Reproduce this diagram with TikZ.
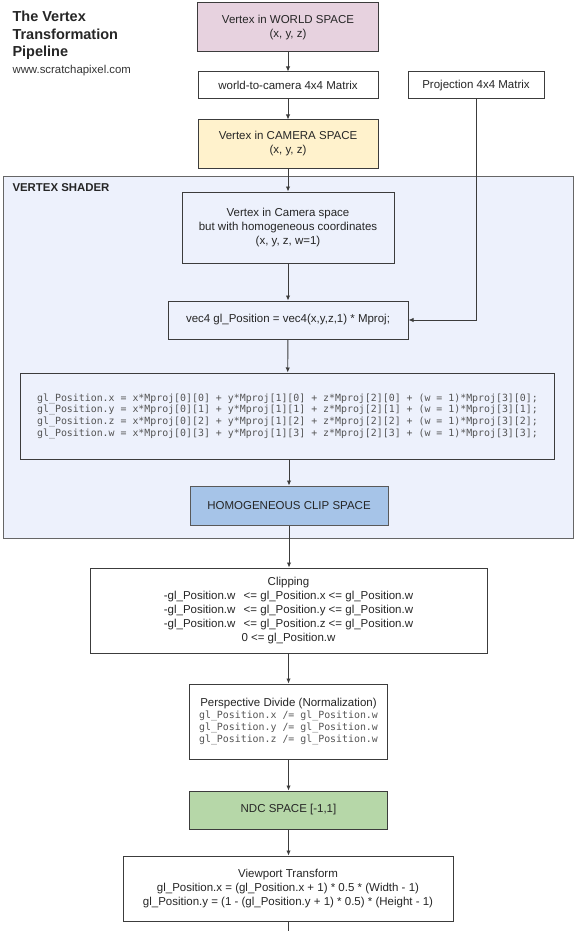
\documentclass[tikz,border=0pt]{standalone}
\usepackage{fontspec}
\setmainfont{Liberation Sans}
\setmonofont{DejaVu Sans Mono}
\usepackage{tikz}
\usetikzlibrary{arrows.meta,positioning}
\definecolor{vxpink}{RGB}{231,210,223}
\definecolor{vxyellow}{RGB}{255,242,204}
\definecolor{vxshader}{RGB}{237,241,252}
\definecolor{vxblue}{RGB}{166,196,232}
\definecolor{vxgreen}{RGB}{182,215,168}
\definecolor{vxline}{RGB}{60,60,60}
\definecolor{vxcode}{RGB}{85,85,85}

\begin{document}
\begin{tikzpicture}[x=1pt,y=-1pt,
  box/.style={draw=vxline,line width=1pt,fill=white,align=center,inner sep=0pt,
    text=black!85,font=\fontsize{11.5}{14}\selectfont},
  flow/.style={draw=vxline,line width=0.9pt,-{Latex[length=5pt,width=4.5pt]}}]
\useasboundingbox (0,0) rectangle (587,931);
% Title
\node[anchor=west,align=left,text=black!85,font=\fontsize{14.5}{17.5}\selectfont\bfseries] (title) at (9,35.5)
  {The Vertex\\Transformation\\Pipeline};
\node[anchor=west,text=black!80,font=\fontsize{11.4}{14}\selectfont] (url) at (9,71) {www.scratchapixel.com};
% Vertex shader frame
\node[box,fill=vxshader,draw=black!60,minimum width=570,minimum height=362] (shader) at (288,357) {};
\node[anchor=west,text=black!85,font=\fontsize{11.4}{14}\selectfont\bfseries] (shlabel) at (9,188) {VERTEX SHADER};
% Boxes
\node[box,fill=vxpink,minimum width=181,minimum height=49] (world) at (288,27.5) {Vertex in WORLD SPACE\\(x, y, z)};
\node[box,minimum width=180,minimum height=27] (wcam) at (288,85.5) {world-to-camera 4x4 Matrix};
\node[box,minimum width=136,minimum height=27] (proj) at (476,85.5) {Projection 4x4 Matrix};
\node[box,fill=vxyellow,minimum width=180,minimum height=48] (camera) at (288,144) {Vertex in CAMERA SPACE\\(x, y, z)};
\node[box,fill=vxshader,minimum width=212,minimum height=71] (homog) at (288,227.5)
  {Vertex in Camera space\\but with homogeneous coordinates\\(x, y, z, w=1)};
\node[box,fill=vxshader,minimum width=240,minimum height=38] (vecp) at (288,320) {vec4 gl\_Position = vec4(x,y,z,1) * Mproj;};
\node[box,fill=vxshader,minimum width=534,minimum height=86,text=vxcode,font=\fontsize{9.9}{11.6}\ttfamily] (code) at (287.5,416)
  {gl\_Position.x = x*Mproj[0][0] + y*Mproj[1][0] + z*Mproj[2][0] + (w = 1)*Mproj[3][0];\\
  gl\_Position.y = x*Mproj[0][1] + y*Mproj[1][1] + z*Mproj[2][1] + (w = 1)*Mproj[3][1];\\
  gl\_Position.z = x*Mproj[0][2] + y*Mproj[1][2] + z*Mproj[2][2] + (w = 1)*Mproj[3][2];\\
  gl\_Position.w = x*Mproj[0][3] + y*Mproj[1][3] + z*Mproj[2][3] + (w = 1)*Mproj[3][3];};
\node[box,fill=vxblue,draw=black!65,minimum width=198,minimum height=39] (hcs) at (289,505.5) {HOMOGENEOUS CLIP SPACE};
\node[box,minimum width=397,minimum height=85] (clipb) at (288.5,610.5)
  {Clipping\\-gl\_Position.w~~\,<= gl\_Position.x <= gl\_Position.w\\-gl\_Position.w~~\,<= gl\_Position.y <= gl\_Position.w\\-gl\_Position.w~~\,<= gl\_Position.z <= gl\_Position.w\\0 <= gl\_Position.w};
\node[box,minimum width=198,minimum height=75,font=\fontsize{9.9}{12}\ttfamily,text=vxcode] (persp) at (288.5,721.5)
  {{\fontsize{11.5}{12}\rmfamily\color{black!85}Perspective Divide (Normalization)}\\
  gl\_Position.x /= gl\_Position.w\\
  gl\_Position.y /= gl\_Position.w\\
  gl\_Position.z /= gl\_Position.w};
\node[box,fill=vxgreen,minimum width=198,minimum height=38] (ndc) at (288.5,810) {NDC SPACE [-1,1]};
\node[box,minimum width=330,minimum height=65] (viewp) at (288,888.5)
  {Viewport Transform\\gl\_Position.x = (gl\_Position.x + 1) * 0.5 * (Width - 1)\\gl\_Position.y = (1 - (gl\_Position.y + 1) * 0.5) * (Height - 1)};
\coordinate (bottom) at (288,931);
% Connectors
\draw[flow] (world) -- (wcam);
\draw[flow] (wcam) -- (camera);
\draw[flow] (camera) -- (homog);
\draw[flow] (homog) -- (vecp);
\draw[flow] (proj.south) |- (vecp.east);
\draw[flow] (vecp) -- (code);
\draw[flow] (code.south -| hcs.north) -- (hcs);
\draw[flow] (hcs) -- (clipb.north -| hcs.south);
\draw[flow] (clipb.south -| persp.north) -- (persp);
\draw[flow] (persp) -- (ndc);
\draw[flow] (ndc) -- (viewp.north -| ndc.south);
\draw[draw=vxline,line width=0.9pt] (viewp.south) -- (bottom);
\end{tikzpicture}
\end{document}
